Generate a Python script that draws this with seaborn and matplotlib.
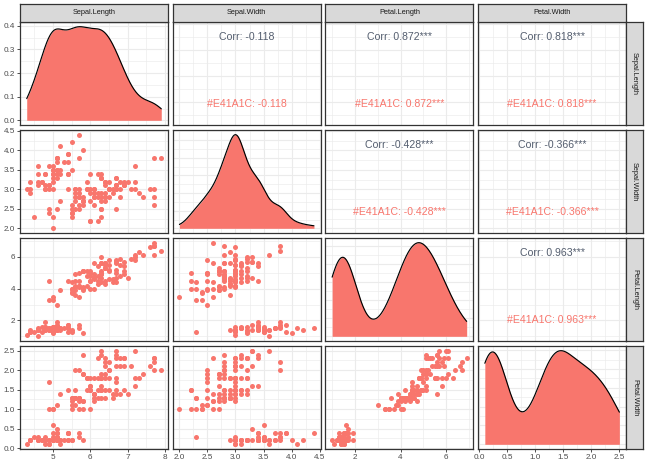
import numpy as np
import pandas as pd
import seaborn as sns
import matplotlib
matplotlib.use("Agg")
import matplotlib.pyplot as plt
from matplotlib.ticker import MultipleLocator, AutoMinorLocator

# iris data (setosa, versicolor, virginica)
sepal_length = [5.1, 4.9, 4.7, 4.6, 5.0, 5.4, 4.6, 5.0, 4.4, 4.9, 5.4, 4.8, 4.8, 4.3, 5.8, 5.7, 5.4, 5.1, 5.7, 5.1,
                5.4, 5.1, 4.6, 5.1, 4.8, 5.0, 5.0, 5.2, 5.2, 4.7, 4.8, 5.4, 5.2, 5.5, 4.9, 5.0, 5.5, 4.9, 4.4, 5.1,
                5.0, 4.5, 4.4, 5.0, 5.1, 4.8, 5.1, 4.6, 5.3, 5.0,
                7.0, 6.4, 6.9, 5.5, 6.5, 5.7, 6.3, 4.9, 6.6, 5.2, 5.0, 5.9, 6.0, 6.1, 5.6, 6.7, 5.6, 5.8, 6.2, 5.6,
                5.9, 6.1, 6.3, 6.1, 6.4, 6.6, 6.8, 6.7, 6.0, 5.7, 5.5, 5.5, 5.8, 6.0, 5.4, 6.0, 6.7, 6.3, 5.6, 5.5,
                5.5, 6.1, 5.8, 5.0, 5.6, 5.7, 5.7, 6.2, 5.1, 5.7,
                6.3, 5.8, 7.1, 6.3, 6.5, 7.6, 4.9, 7.3, 6.7, 7.2, 6.5, 6.4, 6.8, 5.7, 5.8, 6.4, 6.5, 7.7, 7.7, 6.0,
                6.9, 5.6, 7.7, 6.3, 6.7, 7.2, 6.2, 6.1, 6.4, 7.2, 7.4, 7.9, 6.4, 6.3, 6.1, 7.7, 6.3, 6.4, 6.0, 6.9,
                6.7, 6.9, 5.8, 6.8, 6.7, 6.7, 6.3, 6.5, 6.2, 5.9]
sepal_width = [3.5, 3.0, 3.2, 3.1, 3.6, 3.9, 3.4, 3.4, 2.9, 3.1, 3.7, 3.4, 3.0, 3.0, 4.0, 4.4, 3.9, 3.5, 3.8, 3.8,
               3.4, 3.7, 3.6, 3.3, 3.4, 3.0, 3.4, 3.5, 3.4, 3.2, 3.1, 3.4, 4.1, 4.2, 3.1, 3.2, 3.5, 3.6, 3.0, 3.4,
               3.5, 2.3, 3.2, 3.5, 3.8, 3.0, 3.8, 3.2, 3.7, 3.3,
               3.2, 3.2, 3.1, 2.3, 2.8, 2.8, 3.3, 2.4, 2.9, 2.7, 2.0, 3.0, 2.2, 2.9, 2.9, 3.1, 3.0, 2.7, 2.2, 2.5,
               3.2, 2.8, 2.5, 2.8, 2.9, 3.0, 2.8, 3.0, 2.9, 2.6, 2.4, 2.4, 2.7, 2.7, 3.0, 3.4, 3.1, 2.3, 3.0, 2.5,
               2.6, 3.0, 2.6, 2.3, 2.7, 3.0, 2.9, 2.9, 2.5, 2.8,
               3.3, 2.7, 3.0, 2.9, 3.0, 3.0, 2.5, 2.9, 2.5, 3.6, 3.2, 2.7, 3.0, 2.5, 2.8, 3.2, 3.0, 3.8, 2.6, 2.2,
               3.2, 2.8, 2.8, 2.7, 3.3, 3.2, 2.8, 3.0, 2.8, 3.0, 2.8, 3.8, 2.8, 2.8, 2.6, 3.0, 3.4, 3.1, 3.0, 3.1,
               3.1, 3.1, 2.7, 3.2, 3.3, 3.0, 2.5, 3.0, 3.4, 3.0]
petal_length = [1.4, 1.4, 1.3, 1.5, 1.4, 1.7, 1.4, 1.5, 1.4, 1.5, 1.5, 1.6, 1.4, 1.1, 1.2, 1.5, 1.3, 1.4, 1.7, 1.5,
                1.7, 1.5, 1.0, 1.7, 1.9, 1.6, 1.6, 1.5, 1.4, 1.6, 1.6, 1.5, 1.5, 1.4, 1.5, 1.2, 1.3, 1.4, 1.3, 1.5,
                1.3, 1.3, 1.3, 1.6, 1.9, 1.4, 1.6, 1.4, 1.5, 1.4,
                4.7, 4.5, 4.9, 4.0, 4.6, 4.5, 4.7, 3.3, 4.6, 3.9, 3.5, 4.2, 4.0, 4.7, 3.6, 4.4, 4.5, 4.1, 4.5, 3.9,
                4.8, 4.0, 4.9, 4.7, 4.3, 4.4, 4.8, 5.0, 4.5, 3.5, 3.8, 3.7, 3.9, 5.1, 4.5, 4.5, 4.7, 4.4, 4.1, 4.0,
                4.4, 4.6, 4.0, 3.3, 4.2, 4.2, 4.2, 4.3, 3.0, 4.1,
                6.0, 5.1, 5.9, 5.6, 5.8, 6.6, 4.5, 6.3, 5.8, 6.1, 5.1, 5.3, 5.5, 5.0, 5.1, 5.3, 5.5, 6.7, 6.9, 5.0,
                5.7, 4.9, 6.7, 4.9, 5.7, 6.0, 4.8, 4.9, 5.6, 5.8, 6.1, 6.4, 5.6, 5.1, 5.6, 6.1, 5.6, 5.5, 4.8, 5.4,
                5.6, 5.1, 5.1, 5.9, 5.7, 5.2, 5.0, 5.2, 5.4, 5.1]
petal_width = [0.2, 0.2, 0.2, 0.2, 0.2, 0.4, 0.3, 0.2, 0.2, 0.1, 0.2, 0.2, 0.1, 0.1, 0.2, 0.4, 0.4, 0.3, 0.3, 0.3,
               0.2, 0.4, 0.2, 0.5, 0.2, 0.2, 0.4, 0.2, 0.2, 0.2, 0.2, 0.4, 0.1, 0.2, 0.2, 0.2, 0.2, 0.1, 0.2, 0.2,
               0.3, 0.3, 0.2, 0.6, 0.4, 0.3, 0.2, 0.2, 0.2, 0.2,
               1.4, 1.5, 1.5, 1.3, 1.5, 1.3, 1.6, 1.0, 1.3, 1.4, 1.0, 1.5, 1.0, 1.4, 1.3, 1.4, 1.5, 1.0, 1.5, 1.1,
               1.8, 1.3, 1.5, 1.2, 1.3, 1.4, 1.4, 1.7, 1.5, 1.0, 1.1, 1.0, 1.2, 1.6, 1.5, 1.6, 1.5, 1.3, 1.3, 1.3,
               1.2, 1.4, 1.2, 1.0, 1.3, 1.2, 1.3, 1.3, 1.1, 1.3,
               2.5, 1.9, 2.1, 1.8, 2.2, 2.1, 1.7, 1.8, 1.8, 2.5, 2.0, 1.9, 2.1, 2.0, 2.4, 2.3, 1.8, 2.2, 2.3, 1.5,
               2.3, 2.0, 2.0, 1.8, 2.1, 1.8, 1.8, 1.8, 2.1, 1.6, 1.9, 2.0, 2.2, 1.5, 1.4, 2.3, 2.4, 1.8, 1.8, 2.1,
               2.4, 2.3, 1.9, 2.3, 2.5, 2.3, 1.9, 2.0, 2.3, 1.8]

columns = ["Sepal.Length", "Sepal.Width", "Petal.Length", "Petal.Width"]
major_step = {"Sepal.Length": 1, "Sepal.Width": 0.5, "Petal.Length": 2, "Petal.Width": 0.5}
group_label = "#E41A1C"

iris = pd.DataFrame({"Sepal.Length": sepal_length, "Sepal.Width": sepal_width,
                     "Petal.Length": petal_length, "Petal.Width": petal_width})

pt_col = "#F8766D"
grid_col = "#EBEBEB"
border_col = "#333333"
tick_txt = "#4D4D4D"

sns.set_theme(style="white")
plt.rcParams['font.family'] = ['Liberation Sans', 'DejaVu Sans']

fig = plt.figure(figsize=(6.48, 4.68), dpi=100)
W, H = 648, 468
left0, colw, colgap = 20, 148, 4.7
top0, rowh, rowgap = 22, 103, 5


def rect(x0, y0, w, h):
    return [x0 / W, 1 - (y0 + h) / H, w / W, h / H]


def expand(v, frac=0.05):
    lo, hi = np.min(v), np.max(v)
    pad = (hi - lo) * frac
    return lo - pad, hi + pad


def stars(r, n):
    t = abs(r) * np.sqrt((n - 2) / (1 - r ** 2))
    # critical t values, df = 148
    if t > 3.356:
        return "***"
    if t > 2.609:
        return "**"
    if t > 1.976:
        return "*"
    if t > 1.655:
        return "."
    return ""


n = len(iris)
for i, yvar in enumerate(columns):
    for j, xvar in enumerate(columns):
        ax = fig.add_axes(rect(left0 + j * (colw + colgap), top0 + i * (rowh + rowgap), colw, rowh))
        ax.set_xlim(*expand(iris[xvar]))
        if i == j:
            x = iris[xvar].values
            sd = x.std(ddof=1)
            iqr = np.percentile(x, 75) - np.percentile(x, 25)
            bw = 0.9 * min(sd, iqr / 1.34) * n ** -0.2
            sns.kdeplot(x=x, bw_method=bw / sd, cut=0, gridsize=512, fill=True,
                        color=pt_col, alpha=1, linewidth=0, ax=ax)
            sns.kdeplot(x=x, bw_method=bw / sd, cut=0, gridsize=512,
                        color="black", linewidth=0.85, ax=ax)
            top = ax.lines[-1].get_ydata().max()
            ax.set_ylim(-0.05 * top, 1.05 * top)
            if i == 0:
                ax.yaxis.set_major_locator(MultipleLocator(0.1))
        elif i > j:
            sns.scatterplot(data=iris, x=xvar, y=yvar, color=pt_col, s=13,
                            linewidth=0, ax=ax)
            ax.set_ylim(*expand(iris[yvar]))
            ax.yaxis.set_major_locator(MultipleLocator(major_step[yvar]))
        else:
            ax.set_ylim(*expand(iris[yvar]))
            ax.yaxis.set_major_locator(MultipleLocator(major_step[yvar]))
            r = np.corrcoef(iris[xvar], iris[yvar])[0, 1]
            s = stars(r, n)
            ax.text(0.5, 0.85, f"Corr: {r:.3f}{s}", transform=ax.transAxes,
                    ha="center", va="center", fontsize=7.6, color="#535D6E")
            ax.text(0.5, 0.2, f"{group_label}: {r:.3f}{s}", transform=ax.transAxes,
                    ha="center", va="center", fontsize=7.6, color=pt_col)
        ax.xaxis.set_major_locator(MultipleLocator(major_step[xvar]))
        ax.xaxis.set_minor_locator(AutoMinorLocator(2))
        ax.yaxis.set_minor_locator(AutoMinorLocator(2))
        ax.grid(which="major", color=grid_col, linewidth=0.8)
        ax.grid(which="minor", color=grid_col, linewidth=0.45)
        ax.set_axisbelow(True)
        ax.set_xlabel("")
        ax.set_ylabel("")
        for sp in ax.spines.values():
            sp.set_color(border_col)
            sp.set_linewidth(0.9)
        ax.tick_params(which="minor", length=0)
        ax.tick_params(axis="x", which="major", bottom=(i == 3), labelbottom=(i == 3),
                       length=2, width=0.6, color=border_col, labelsize=5.9,
                       labelcolor=tick_txt, pad=1.5)
        ax.tick_params(axis="y", which="major", left=(j == 0), labelleft=(j == 0),
                       length=2, width=0.6, color=border_col, labelsize=5.9,
                       labelcolor=tick_txt, pad=1.5)

# strips
for j, name in enumerate(columns):
    sa = fig.add_axes(rect(left0 + j * (colw + colgap), 4, colw, 18))
    sa.set_facecolor("#D9D9D9")
    sa.set_xticks([])
    sa.set_yticks([])
    for sp in sa.spines.values():
        sp.set_color(border_col)
        sp.set_linewidth(0.9)
    sa.text(0.5, 0.5, name, transform=sa.transAxes, ha="center", va="center",
            fontsize=5.3, color="#1A1A1A")

for i, name in enumerate(columns):
    sa = fig.add_axes(rect(left0 + 3 * (colw + colgap) + colw, top0 + i * (rowh + rowgap), 17, rowh))
    sa.set_facecolor("#D9D9D9")
    sa.set_xticks([])
    sa.set_yticks([])
    for sp in sa.spines.values():
        sp.set_color(border_col)
        sp.set_linewidth(0.9)
    sa.text(0.5, 0.5, name, transform=sa.transAxes, ha="center", va="center",
            rotation=270, fontsize=5.3, color="#1A1A1A")

fig.savefig("out.png", dpi=100, facecolor="white")
